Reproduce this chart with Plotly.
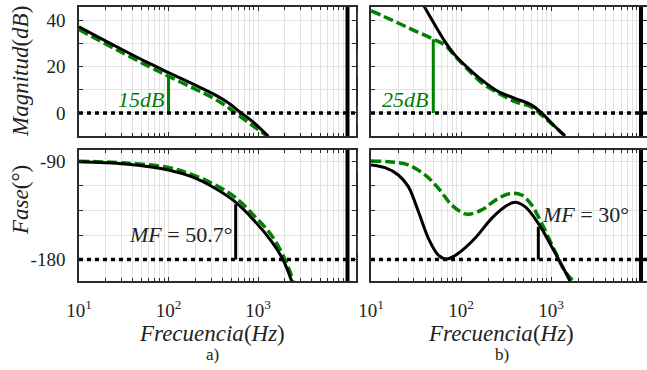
import math
import plotly.graph_objects as go

# ---------------- data ----------------
# panel a) magnitude
fa_mag = [10, 26.4, 62, 100, 189, 316, 447, 628, 886, 1303]
mag_a_black = [37.1, 28.5, 21.2, 17.4, 12.4, 8.2, 4.8, 0.4, -3.9, -10.0]
fa_mag_g = [10, 26.4, 62, 100, 189, 316, 447, 628, 886, 1290]
mag_a_green = [35.9, 27.2, 19.8, 15.8, 10.7, 6.4, 2.8, -1.4, -5.6, -10.2]
# panel a) phase
fa_ph_black = [10, 32.7, 99.5, 181, 331, 553, 925, 1421, 1910, 2376]
ph_a_black = [-90.2, -92.3, -97.8, -104.0, -114.6, -126.9, -145.0, -163.6, -180.4, -199.7]
fa_ph_green = [10, 32.7, 99.5, 181, 331, 553, 925, 1421, 2004, 2477]
ph_a_green = [-89.8, -91.4, -95.5, -101.9, -111.5, -122.7, -140.6, -158.0, -180.0, -199.7]

# panel b) magnitude
fb_mag_black = [30, 39.2, 51.4, 66.4, 85.8, 120.7, 170, 260, 398, 610, 787, 1018, 1431]
mag_b_black = [53.5, 45.7, 37.8, 30.7, 24.9, 19.2, 14.2, 9.2, 6.3, 3.4, 0.0, -4.4, -9.9]
fb_mag_green = [10, 17, 28.3, 47.2, 66.4, 85.8, 120.7, 170, 260, 398, 610, 787, 1018, 1431]
mag_b_green = [44.0, 40.0, 36.0, 32.1, 29.2, 24.5, 18.5, 13.0, 8.5, 4.9, 2.5, -0.9, -4.7, -9.9]
# panel b) phase
fb_ph_black = [10, 14.3, 20.1, 26, 33.6, 43.4, 56, 69.3, 93.3, 143, 219, 308, 398, 514, 723, 1018, 1259, 1626]
ph_b_black = [-93.2, -95.7, -102.4, -113.1, -136.0, -160.5, -175.9, -179.5, -174.3, -160.5,
              -142.2, -131.5, -127.5, -131.5, -146.8, -168.2, -182.0, -199.7]
fb_ph_green = [10, 17, 26, 39.8, 56, 78.7, 101.6, 120.7, 170, 260, 366, 472, 610, 787, 1107, 1431, 1770]
ph_b_green = [-89.5, -90.5, -93.2, -102.4, -114.6, -129.9, -136.7, -138.5, -134.5, -123.8,
              -119.2, -120.8, -130.0, -146.8, -172.5, -191.0, -199.7]

# markers / annotations
gain_a_freq, gain_a_top = 100, 16.3
gain_b_freq, gain_b_top = 49.2, 31.7
mf_a_freq, mf_a = 563, 50.7
mf_b_freq, mf_b = 723, 30
marker_freq = 1e4
ref_db, ref_deg = 0, -180

mag_ticks = [0, 10, 20, 30, 40]
mag_ticktext = ["0", "", "20", "", "40"]
ph_ticks = [-180, -157.5, -135, -112.5, -90]
ph_ticktext = ["-180", "", "", "", "-90"]
x_ticks = [10, 100, 1000, 10000]
x_ticktext = ["10<sup>1</sup>", "10<sup>2</sup>", "10<sup>3</sup>", ""]

GREEN = "rgb(0,128,0)"
FONT = "Liberation Serif"
FRAME = "#2b2b2b"
GRID = "#e2e2e2"
minor_vals = [m * 10 ** k for k in range(1, 5) for m in range(2, 10)]

fig = go.Figure()

def line(x, y, xa, ya, color, dash=None, width=3):
    fig.add_trace(go.Scatter(x=x, y=y, xaxis=xa, yaxis=ya, mode="lines",
                             line=dict(color=color, width=width, dash=dash, shape="spline", smoothing=1.0),
                             showlegend=False, hoverinfo="skip"))

GDASH = "10px,4px"
line(fa_mag_g, mag_a_green, "x", "y", GREEN, GDASH, 3.5)
line(fa_mag, mag_a_black, "x", "y", "black")
line(fb_mag_green, mag_b_green, "x2", "y2", GREEN, GDASH, 3.5)
line(fb_mag_black, mag_b_black, "x2", "y2", "black")
line(fa_ph_green, ph_a_green, "x3", "y3", GREEN, GDASH, 3.5)
line(fa_ph_black, ph_a_black, "x3", "y3", "black")
line(fb_ph_green, ph_b_green, "x4", "y4", GREEN, GDASH, 3.5)
line(fb_ph_black, ph_b_black, "x4", "y4", "black")

def vbar(x, y0, y1, xa, ya, color):
    fig.add_trace(go.Scatter(x=[x, x], y=[y0, y1], xaxis=xa, yaxis=ya, mode="lines",
                             line=dict(color=color, width=3), showlegend=False, hoverinfo="skip"))

vbar(gain_a_freq, ref_db, gain_a_top, "x", "y", GREEN)
vbar(gain_b_freq, ref_db, gain_b_top, "x2", "y2", GREEN)
vbar(mf_a_freq, ref_deg, ref_deg + mf_a, "x3", "y3", "black")
vbar(mf_b_freq, ref_deg, ref_deg + mf_b, "x4", "y4", "black")

shapes = []
for xa, ya, yref_val in [("x", "y", ref_db), ("x2", "y2", ref_db), ("x3", "y3", ref_deg), ("x4", "y4", ref_deg)]:
    shapes.append(dict(type="line", xref=xa + " domain", yref=ya, x0=0, x1=1, y0=yref_val, y1=yref_val,
                       line=dict(color="black", width=3.5, dash="4px,4px"), layer="above"))
    shapes.append(dict(type="line", xref=xa, yref=ya + " domain", x0=marker_freq, x1=marker_freq, y0=0, y1=1,
                       line=dict(color="black", width=4), layer="above"))
W, H = 647, 370
for (py0, py1) in [(12, 30), (50, 77), (105, 125), (153, 173), (233, 253)]:
    shapes.append(dict(type="line", xref="paper", yref="paper", x0=357.5 / W, x1=357.5 / W,
                       y0=1 - py1 / H, y1=1 - py0 / H, line=dict(color="#444", width=1)))

xa_dom = [79 / W, 356 / W]
xb_dom = [371 / W, 1.0]
ytop_dom = [1 - 136 / H, 1 - 7 / H]
ybot_dom = [1 - 281 / H, 1 - 150 / H]

def xaxis(dom, rng, labels, anchor):
    return dict(type="log", domain=dom, range=rng, anchor=anchor, automargin=False,
                showline=True, linecolor=FRAME, linewidth=1.5, mirror="ticks",
                ticks="inside", ticklen=4, tickcolor=FRAME, tickwidth=1,
                tickvals=x_ticks, ticktext=x_ticktext, showticklabels=labels,
                ticklabelstandoff=11,
                showgrid=True, gridcolor=GRID, gridwidth=1, zeroline=False,
                tickfont=dict(family=FONT, size=19, color="#222"),
                minor=dict(tickvals=minor_vals, ticks="inside", ticklen=3, tickcolor=FRAME,
                           showgrid=True, gridcolor=GRID, gridwidth=1))

def yaxis(dom, rng, tv, tt, labels, anchor):
    return dict(domain=dom, range=rng, anchor=anchor, automargin=False,
                showline=True, linecolor=FRAME, linewidth=1.5, mirror="ticks",
                ticks="inside", ticklen=4, tickcolor=FRAME, tickwidth=1,
                tickvals=tv, ticktext=tt, showticklabels=labels, ticklabelstandoff=8,
                showgrid=True, gridcolor=GRID, gridwidth=1, zeroline=False,
                tickfont=dict(family=FONT, size=19, color="#222"))

xa_rng = [1, 1 + 277 / 89.5]
xb_rng = [1, 1 + 276 / 90]
mag_rng = [-9.9, 45.6]
ph_rng = [-199.7, -79.5]

anns = []
def ann(text, x, y, xref, yref, size, xanchor="center", yanchor="middle", color="#222", xshift=0, angle=0):
    anns.append(dict(text=text, x=x, y=y, xref=xref, yref=yref, showarrow=False, xanchor=xanchor,
                     yanchor=yanchor, xshift=xshift, textangle=angle,
                     font=dict(family=FONT, size=size, color=color)))

ann("<i>15dB</i>", math.log10(gain_a_freq), 5.6, "x", "y", 22, xanchor="right", color=GREEN, xshift=-3)
ann("<i>25dB</i>", math.log10(gain_b_freq), 5.6, "x2", "y2", 22, xanchor="right", color=GREEN, xshift=-3)
ann("<i>MF</i> = 50.7°", math.log10(mf_a_freq), -157, "x3", "y3", 22, xanchor="right", xshift=-2)
ann("<i>MF</i> = 30°", math.log10(mf_b_freq), -139, "x4", "y4", 22, xanchor="left", xshift=2)
ann("<i>Magnitud</i>(<i>dB</i>)", 20 / W, 1 - 72 / H, "paper", "paper", 23, angle=-90)
ann("<i>Fase</i>(°)", 20 / W, 1 - 200 / H, "paper", "paper", 23, angle=-90)
ann("<i>Frecuencia</i>(<i>Hz</i>)", 212 / W, 1 - 333 / H, "paper", "paper", 23)
ann("<i>Frecuencia</i>(<i>Hz</i>)", 501 / W, 1 - 333 / H, "paper", "paper", 23)
ann("a)", 212 / W, 1 - 354 / H, "paper", "paper", 17)
ann("b)", 502 / W, 1 - 354 / H, "paper", "paper", 17)

fig.update_layout(
    width=W, height=H, margin=dict(l=0, r=0, t=0, b=0, autoexpand=False),
    paper_bgcolor="white", plot_bgcolor="white",
    font=dict(family=FONT, color="#222"),
    xaxis=xaxis(xa_dom, xa_rng, False, "y"),
    yaxis=yaxis(ytop_dom, mag_rng, mag_ticks, mag_ticktext, True, "x"),
    xaxis2=xaxis(xb_dom, xb_rng, False, "y2"),
    yaxis2=yaxis(ytop_dom, mag_rng, mag_ticks, mag_ticktext, False, "x2"),
    xaxis3=xaxis(xa_dom, xa_rng, True, "y3"),
    yaxis3=yaxis(ybot_dom, ph_rng, ph_ticks, ph_ticktext, True, "x3"),
    xaxis4=xaxis(xb_dom, xb_rng, True, "y4"),
    yaxis4=yaxis(ybot_dom, ph_rng, ph_ticks, ph_ticktext, False, "x4"),
    shapes=shapes, annotations=anns,
)

fig.write_html("out.html")
